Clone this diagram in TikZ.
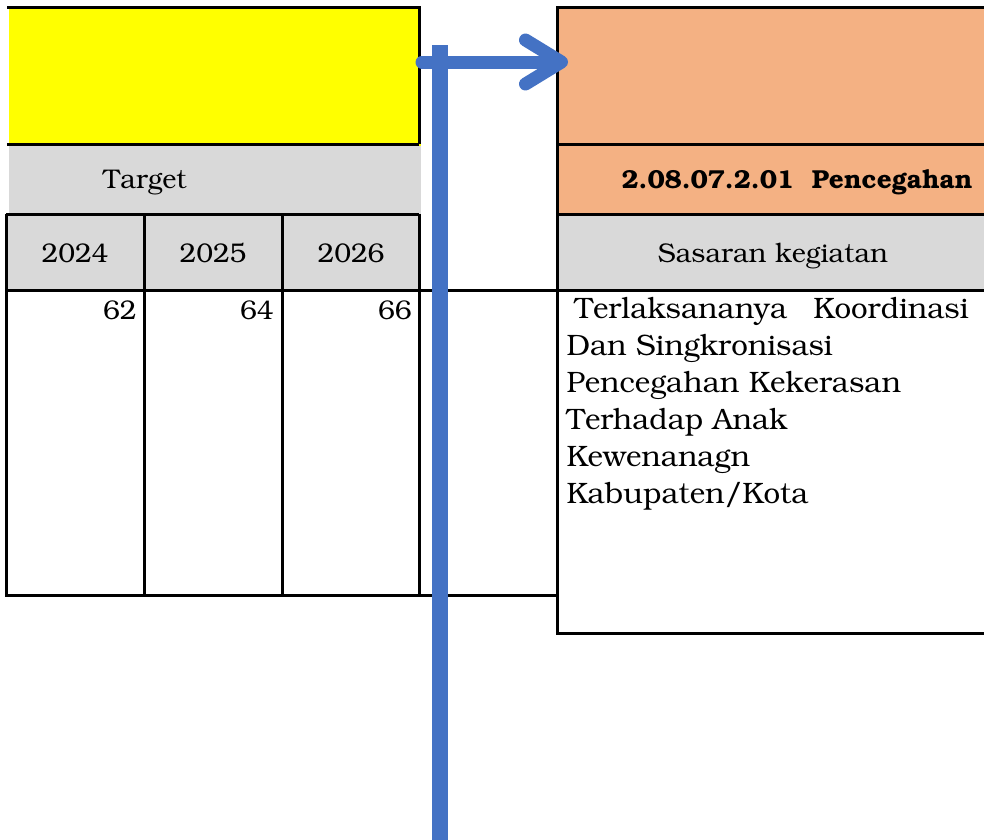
\documentclass[tikz,border=0pt]{standalone}
\usepackage[T1]{fontenc}
\usepackage{bookman}
\usetikzlibrary{arrows.meta}
\definecolor{kuning}{HTML}{FFFF00}
\definecolor{oranye}{HTML}{F4B183}
\definecolor{abu}{HTML}{D9D9D9}
\definecolor{biru}{HTML}{4472C4}
\begin{document}
\begin{tikzpicture}[x=1pt, y=-1pt, line width=3pt, font=\fontsize{27}{37}\selectfont]
    \tikzset{
        cell/.style  = {rectangle, inner sep=0pt, anchor=north west},
        txt/.style   = {inner sep=0pt, anchor=base},
        num/.style   = {inner sep=0pt, anchor=base east},
        panah/.style = {draw=biru, line width=13pt, line cap=round,
                        -{Straight Barb[length=36pt, width=44pt, round]}},
        batang/.style = {draw=biru, line width=16pt}
    }
    \useasboundingbox (0,0) rectangle (984,839);
    \clip (0,0) rectangle (984,839);

    % left table
    \node[cell, fill=kuning, minimum width=412, minimum height=137] (HEAD) at (7,7) {};
    \node[cell, fill=abu, minimum width=412, minimum height=70] (TGT) at (7,144) {};
    \node[cell, fill=abu, minimum width=138, minimum height=76] (Y1) at (6,214) {};
    \node[cell, fill=abu, minimum width=138, minimum height=76] (Y2) at (144,214) {};
    \node[cell, fill=abu, minimum width=137, minimum height=76] (Y3) at (282,214) {};

    % right table
    \node[cell, fill=oranye, minimum width=440, minimum height=137] (KEG) at (557,7) {};
    \node[cell, fill=oranye, minimum width=440, minimum height=70] (KODE) at (557,144) {};
    \node[cell, fill=abu, minimum width=440, minimum height=76] (SAS) at (557,214) {};

    % borders
    \draw (7,7) -- (419,7) -- (419,144);
    \draw (7,144) -- (419,144);
    \draw (6,214) -- (419,214);
    \draw (6,214) -- (6,595) -- (557,595);
    \draw (144,214) -- (144,595);
    \draw (282,214) -- (282,595);
    \draw (419,214) -- (419,595);
    \draw (6,290) -- (984,290);
    \draw (984,7) -- (557,7) -- (557,633) -- (984,633);
    \draw (557,144) -- (984,144);
    \draw (557,214) -- (984,214);

    % texts
    \node[txt] (T0) at (145,188) {Target};
    \node[txt] (T1) at (75,262) {2024};
    \node[txt] (T2) at (213,262) {2025};
    \node[txt] (T3) at (351,262) {2026};
    \node[num] (V1) at (138,319) {62};
    \node[num] (V2) at (275,319) {64};
    \node[num] (V3) at (413,319) {66};
    \node[inner sep=0pt, anchor=base west, font=\fontsize{26}{37}\selectfont\bfseries]
        (KD) at (620,188) {2.08.07.2.01\ \ Pencegahan};
    \node[txt] (SK) at (773,262) {Sasaran kegiatan};
    \node[inner sep=0pt, anchor=north west, align=left,
          font=\fontsize{29.5}{37}\selectfont] (ISI) at (565,296)
        {\hspace{8pt}Terlaksananya\hspace{26pt}Koordinasi\\
         Dan Singkronisasi\\
         Pencegahan Kekerasan\\
         Terhadap Anak\\
         Kewenanagn\\
         Kabupaten/Kota};

    % connectors
    \coordinate (A) at (HEAD.east |- 0,62);
    \coordinate (B) at (568,62);
    \draw[panah] (A) -- (B);
    \coordinate (C) at (440,45);
    \coordinate (D) at (440,845);
    \draw[batang] (C) -- (D);
\end{tikzpicture}
\end{document}
